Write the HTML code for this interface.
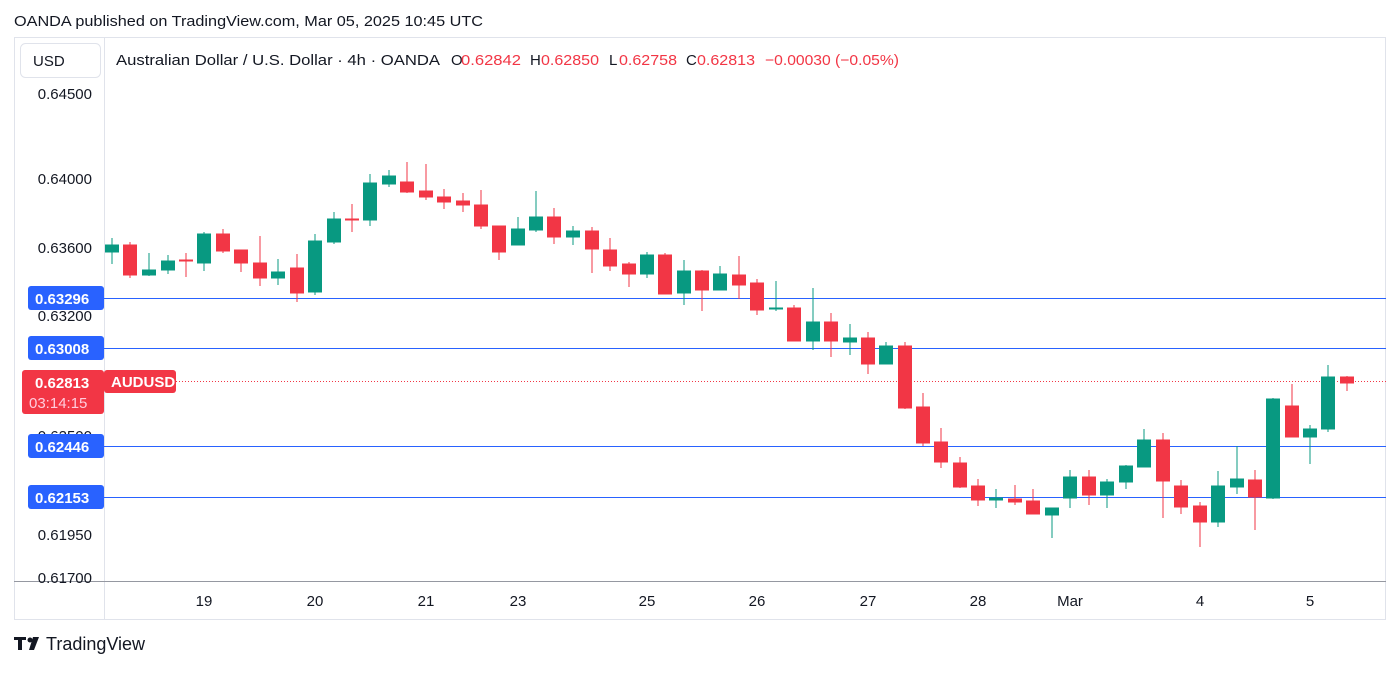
<!DOCTYPE html>
<html><head><meta charset="utf-8"><style>
html,body{margin:0;padding:0;background:#fff;}
body{width:1400px;height:668px;position:relative;overflow:hidden;font-family:"Liberation Sans",sans-serif;}
</style></head><body>
<svg width="1400" height="668" xmlns="http://www.w3.org/2000/svg" font-family="Liberation Sans, sans-serif">
<text x="14" y="26" font-size="15" fill="#131722" textLength="469" lengthAdjust="spacingAndGlyphs">OANDA published on TradingView.com, Mar 05, 2025 10:45 UTC</text>
<rect x="14.5" y="37.5" width="1371" height="582" fill="none" stroke="#e0e3eb"/>
<line x1="104.5" y1="38" x2="104.5" y2="619" stroke="#e0e3eb"/>
<line x1="14" y1="581.5" x2="1386" y2="581.5" stroke="#9598a1"/>
<rect x="20.5" y="43.5" width="80" height="34" rx="5" fill="#fff" stroke="#e0e3eb"/>
<text x="33" y="66" font-size="15" fill="#131722">USD</text>
<g font-size="15">
<text x="116" y="65" fill="#131722" textLength="324" lengthAdjust="spacingAndGlyphs">Australian Dollar / U.S. Dollar · 4h · OANDA</text>
<text x="451" y="65" fill="#131722">O</text><text x="461" y="65" fill="#f23645" textLength="60" lengthAdjust="spacingAndGlyphs">0.62842</text>
<text x="530" y="65" fill="#131722">H</text><text x="541" y="65" fill="#f23645" textLength="58" lengthAdjust="spacingAndGlyphs">0.62850</text>
<text x="609" y="65" fill="#131722">L</text><text x="619" y="65" fill="#f23645" textLength="58" lengthAdjust="spacingAndGlyphs">0.62758</text>
<text x="686" y="65" fill="#131722">C</text><text x="697" y="65" fill="#f23645" textLength="58" lengthAdjust="spacingAndGlyphs">0.62813</text>
<text x="765" y="65" fill="#f23645" textLength="134" lengthAdjust="spacingAndGlyphs">−0.00030 (−0.05%)</text>
</g>
<g font-size="15" fill="#131722" text-anchor="end">
<text x="92" y="99">0.64500</text><text x="92" y="184">0.64000</text><text x="92" y="253">0.63600</text><text x="92" y="321">0.63200</text><text x="92" y="441">0.62500</text><text x="92" y="503">0.62000</text><text x="92" y="540">0.61950</text><text x="92" y="583">0.61700</text>
</g>
<g font-size="15" fill="#131722" text-anchor="middle">
<text x="204" y="606">19</text><text x="315" y="606">20</text><text x="426" y="606">21</text><text x="518" y="606">23</text><text x="647" y="606">25</text><text x="757" y="606">26</text><text x="868" y="606">27</text><text x="978" y="606">28</text><text x="1070" y="606">Mar</text><text x="1200" y="606">4</text><text x="1310" y="606">5</text>
</g>
<g stroke="#2962ff" stroke-width="1">
<line x1="104" y1="298.5" x2="1386" y2="298.5"/><line x1="104" y1="348.5" x2="1386" y2="348.5"/><line x1="104" y1="446.5" x2="1386" y2="446.5"/><line x1="104" y1="497.5" x2="1386" y2="497.5"/>
</g>
<line x1="176" y1="381.5" x2="1386" y2="381.5" stroke="#f23645" stroke-dasharray="1,2"/>
<g id="c">
<g stroke="#089981" fill="#089981">
<line x1="112" y1="238" x2="112" y2="264"/><rect x="105.5" y="245" width="13" height="7"/>
<line x1="149" y1="253" x2="149" y2="276"/><rect x="142.5" y="270" width="13" height="5"/>
<line x1="168" y1="255" x2="168" y2="274"/><rect x="161.5" y="261" width="13" height="9"/>
<line x1="204" y1="232" x2="204" y2="271"/><rect x="197.5" y="234" width="13" height="29"/>
<line x1="278" y1="259" x2="278" y2="285"/><rect x="271.5" y="272" width="13" height="6"/>
<line x1="315" y1="234" x2="315" y2="295"/><rect x="308.5" y="241" width="13" height="51"/>
<line x1="334" y1="212" x2="334" y2="244"/><rect x="327.5" y="219" width="13" height="23"/>
<line x1="370" y1="174" x2="370" y2="226"/><rect x="363.5" y="183" width="13" height="37"/>
<line x1="389" y1="170" x2="389" y2="187"/><rect x="382.5" y="176" width="13" height="8"/>
<line x1="518" y1="217" x2="518" y2="245"/><rect x="511.5" y="229" width="13" height="16"/>
<line x1="536" y1="191" x2="536" y2="232"/><rect x="529.5" y="217" width="13" height="13"/>
<line x1="573" y1="226" x2="573" y2="245"/><rect x="566.5" y="231" width="13" height="6"/>
<line x1="647" y1="252" x2="647" y2="278"/><rect x="640.5" y="255" width="13" height="19"/>
<line x1="684" y1="260" x2="684" y2="305"/><rect x="677.5" y="271" width="13" height="22"/>
<line x1="720" y1="266" x2="720" y2="290"/><rect x="713.5" y="274" width="13" height="16"/>
<line x1="776" y1="281" x2="776" y2="311"/><rect x="769.5" y="308" width="13" height="1"/>
<line x1="813" y1="288" x2="813" y2="350"/><rect x="806.5" y="322" width="13" height="19"/>
<line x1="850" y1="324" x2="850" y2="355"/><rect x="843.5" y="338" width="13" height="4"/>
<line x1="886" y1="342" x2="886" y2="364"/><rect x="879.5" y="346" width="13" height="18"/>
<line x1="996" y1="489" x2="996" y2="508"/><rect x="989.5" y="498" width="13" height="2"/>
<line x1="1052" y1="508" x2="1052" y2="538"/><rect x="1045.5" y="508" width="13" height="7"/>
<line x1="1070" y1="470" x2="1070" y2="508"/><rect x="1063.5" y="477" width="13" height="21"/>
<line x1="1107" y1="479" x2="1107" y2="508"/><rect x="1100.5" y="482" width="13" height="13"/>
<line x1="1126" y1="465" x2="1126" y2="489"/><rect x="1119.5" y="466" width="13" height="16"/>
<line x1="1144" y1="429" x2="1144" y2="467"/><rect x="1137.5" y="440" width="13" height="27"/>
<line x1="1218" y1="471" x2="1218" y2="527"/><rect x="1211.5" y="486" width="13" height="36"/>
<line x1="1237" y1="446" x2="1237" y2="494"/><rect x="1230.5" y="479" width="13" height="8"/>
<line x1="1273" y1="398" x2="1273" y2="499"/><rect x="1266.5" y="399" width="13" height="99"/>
<line x1="1310" y1="425" x2="1310" y2="464"/><rect x="1303.5" y="429" width="13" height="8"/>
<line x1="1328" y1="365" x2="1328" y2="432"/><rect x="1321.5" y="377" width="13" height="52"/>
</g>
<g stroke="#f23645" fill="#f23645">
<line x1="130" y1="242" x2="130" y2="278"/><rect x="123.5" y="245" width="13" height="30"/>
<line x1="186" y1="253" x2="186" y2="277"/><rect x="179.5" y="260" width="13" height="1"/>
<line x1="223" y1="229" x2="223" y2="253"/><rect x="216.5" y="234" width="13" height="17"/>
<line x1="241" y1="250" x2="241" y2="272"/><rect x="234.5" y="250" width="13" height="13"/>
<line x1="260" y1="236" x2="260" y2="286"/><rect x="253.5" y="263" width="13" height="15"/>
<line x1="297" y1="254" x2="297" y2="302"/><rect x="290.5" y="268" width="13" height="25"/>
<line x1="352" y1="204" x2="352" y2="232"/><rect x="345.5" y="219" width="13" height="1"/>
<line x1="407" y1="162" x2="407" y2="193"/><rect x="400.5" y="182" width="13" height="10"/>
<line x1="426" y1="164" x2="426" y2="200"/><rect x="419.5" y="191" width="13" height="6"/>
<line x1="444" y1="189" x2="444" y2="209"/><rect x="437.5" y="197" width="13" height="5"/>
<line x1="463" y1="193" x2="463" y2="212"/><rect x="456.5" y="201" width="13" height="4"/>
<line x1="481" y1="190" x2="481" y2="229"/><rect x="474.5" y="205" width="13" height="21"/>
<line x1="499" y1="226" x2="499" y2="260"/><rect x="492.5" y="226" width="13" height="26"/>
<line x1="554" y1="208" x2="554" y2="244"/><rect x="547.5" y="217" width="13" height="20"/>
<line x1="592" y1="227" x2="592" y2="273"/><rect x="585.5" y="231" width="13" height="18"/>
<line x1="610" y1="238" x2="610" y2="271"/><rect x="603.5" y="250" width="13" height="16"/>
<line x1="629" y1="262" x2="629" y2="287"/><rect x="622.5" y="264" width="13" height="10"/>
<line x1="665" y1="253" x2="665" y2="294"/><rect x="658.5" y="255" width="13" height="39"/>
<line x1="702" y1="270" x2="702" y2="311"/><rect x="695.5" y="271" width="13" height="19"/>
<line x1="739" y1="256" x2="739" y2="299"/><rect x="732.5" y="275" width="13" height="10"/>
<line x1="757" y1="279" x2="757" y2="315"/><rect x="750.5" y="283" width="13" height="27"/>
<line x1="794" y1="305" x2="794" y2="341"/><rect x="787.5" y="308" width="13" height="33"/>
<line x1="831" y1="313" x2="831" y2="357"/><rect x="824.5" y="322" width="13" height="19"/>
<line x1="868" y1="332" x2="868" y2="374"/><rect x="861.5" y="338" width="13" height="26"/>
<line x1="905" y1="342" x2="905" y2="409"/><rect x="898.5" y="346" width="13" height="62"/>
<line x1="923" y1="393" x2="923" y2="446"/><rect x="916.5" y="407" width="13" height="36"/>
<line x1="941" y1="428" x2="941" y2="468"/><rect x="934.5" y="442" width="13" height="20"/>
<line x1="960" y1="457" x2="960" y2="488"/><rect x="953.5" y="463" width="13" height="24"/>
<line x1="978" y1="479" x2="978" y2="506"/><rect x="971.5" y="486" width="13" height="14"/>
<line x1="1015" y1="485" x2="1015" y2="505"/><rect x="1008.5" y="499" width="13" height="3"/>
<line x1="1033" y1="489" x2="1033" y2="514"/><rect x="1026.5" y="501" width="13" height="13"/>
<line x1="1089" y1="470" x2="1089" y2="505"/><rect x="1082.5" y="477" width="13" height="18"/>
<line x1="1163" y1="433" x2="1163" y2="518"/><rect x="1156.5" y="440" width="13" height="41"/>
<line x1="1181" y1="480" x2="1181" y2="514"/><rect x="1174.5" y="486" width="13" height="21"/>
<line x1="1200" y1="502" x2="1200" y2="547"/><rect x="1193.5" y="506" width="13" height="16"/>
<line x1="1255" y1="470" x2="1255" y2="530"/><rect x="1248.5" y="480" width="13" height="17"/>
<line x1="1292" y1="384" x2="1292" y2="437"/><rect x="1285.5" y="406" width="13" height="31"/>
<line x1="1347" y1="376" x2="1347" y2="391"/><rect x="1340.5" y="377" width="13" height="6"/>
</g>
</g>
<g font-size="15" font-weight="bold" fill="#fff">
<rect x="28" y="286" width="76" height="24" rx="3" fill="#2962ff"/><text x="35" y="304">0.63296</text>
<rect x="28" y="336" width="76" height="24" rx="3" fill="#2962ff"/><text x="35" y="354">0.63008</text>
<rect x="28" y="434" width="76" height="24" rx="3" fill="#2962ff"/><text x="35" y="452">0.62446</text>
<rect x="28" y="485" width="76" height="24" rx="3" fill="#2962ff"/><text x="35" y="503">0.62153</text>
<rect x="22" y="370" width="82" height="44" rx="3" fill="#f23645"/><text x="35" y="388">0.62813</text>
<text x="29" y="408" font-weight="normal" fill="#fcd">03:14:15</text>
<rect x="104" y="370" width="72" height="23" rx="3" fill="#f23645"/><text x="111" y="387">AUDUSD</text>
</g>
<g fill="#131722">
<path d="M14 637h12v3h-4v10h-4v-10h-4z"/><circle cx="30" cy="640" r="2.5"/><path d="M33 637h6l-5 13h-5z"/>
<text x="46" y="650" font-size="18">TradingView</text>
</g>
</svg>
</body></html>
